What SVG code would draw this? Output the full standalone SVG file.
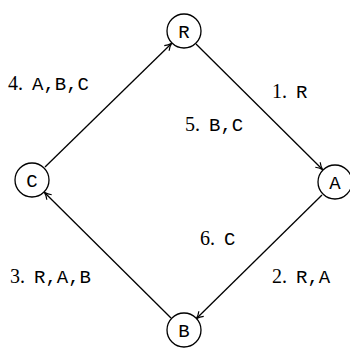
<svg xmlns="http://www.w3.org/2000/svg" width="350" height="349" viewBox="0 0 350 349">
<style>
.n{fill:#fff;stroke:#000;stroke-width:1.3}
.e{stroke:#000;stroke-width:1.3;fill:none}
.nt{font-family:"Liberation Mono","DejaVu Sans Mono",monospace;font-size:19px;text-anchor:middle}
.l{font-family:"Liberation Serif","DejaVu Serif",serif;font-size:20px}
.m{font-family:"Liberation Mono","DejaVu Sans Mono",monospace;font-size:19px}
</style>
<defs>
<marker id="ah" markerWidth="10" markerHeight="10" refX="7" refY="5" orient="auto" markerUnits="userSpaceOnUse">
<path d="M1,1.5 Q4,4 8,5 Q4,6 1,8.5" fill="none" stroke="#000" stroke-width="1.2"/>
</marker>
</defs>
<rect width="350" height="349" fill="#fff"/>
<g id="connectors">
<line class="e" marker-end="url(#ah)" x1="196" y1="44" x2="322" y2="169"/>
<line class="e" marker-end="url(#ah)" x1="322" y1="195" x2="197" y2="318"/>
<line class="e" marker-end="url(#ah)" x1="171" y1="318" x2="45" y2="193"/>
<line class="e" marker-end="url(#ah)" x1="45" y1="167" x2="171" y2="44"/>
</g>
<g id="node-R"><circle class="n" cx="184" cy="31" r="17"/><text class="nt" x="184" y="37.5">R</text></g>
<g id="node-A"><circle class="n" cx="335" cy="182" r="17"/><text class="nt" x="335" y="188.5">A</text></g>
<g id="node-B"><circle class="n" cx="184" cy="330" r="17"/><text class="nt" x="184" y="336.5">B</text></g>
<g id="node-C"><circle class="n" cx="32" cy="180" r="17"/><text class="nt" x="32" y="186.5">C</text></g>
<g id="labels">
<text class="l" x="272" y="98">1. <tspan class="m" dx="4">R</tspan></text>
<text class="l" x="185" y="131">5. <tspan class="m" dx="4">B,C</tspan></text>
<text class="l" x="8" y="90">4. <tspan class="m" dx="4">A,B,C</tspan></text>
<text class="l" x="200" y="245">6. <tspan class="m" dx="4">C</tspan></text>
<text class="l" x="10" y="283">3. <tspan class="m" dx="4">R,A,B</tspan></text>
<text class="l" x="272" y="283">2. <tspan class="m" dx="4">R,A</tspan></text>
</g>
</svg>
